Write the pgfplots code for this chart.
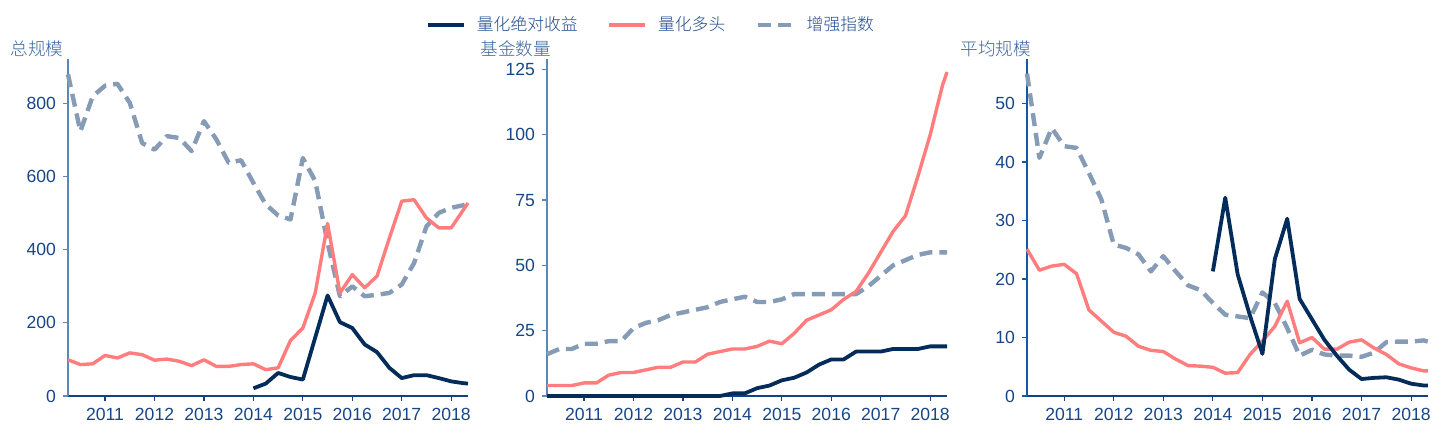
\documentclass[border=0pt]{standalone}
\usepackage{pgfplots}
\pgfplotsset{compat=1.18}
\usepackage{pgfplotstable}
\usepackage{fontspec}
\setmainfont{Liberation Sans}
\IfFontExistsTF{Noto Sans CJK SC Light}
  {\newfontfamily\cjk{Noto Sans CJK SC Light}}
  {\newfontfamily\cjk{Noto Sans CJK SC}}

\definecolor{navy}{RGB}{3,44,90}
\definecolor{salmon}{RGB}{255,125,125}
\definecolor{dashc}{RGB}{133,155,182}
\definecolor{ticktext}{RGB}{22,70,135}
\definecolor{titletext}{RGB}{55,100,155}
\definecolor{legtext}{RGB}{30,75,140}
\definecolor{yline}{RGB}{95,135,180}
\definecolor{yline3}{RGB}{25,85,165}
\definecolor{xline}{RGB}{20,65,130}

% x: quarter ends; tp/tn/td = total size, np/nn/nd = fund count, ap/an/ad = average size
% p = 量化多头, n = 量化绝对收益, d = 增强指数
\pgfplotstableread{
x       tp   tn   td   np  nn  nd  ap    an    ad
2010.25 99   nan  880  4   0   16  25.1  nan   55.1
2010.50 86   nan  724  4   0   18  21.5  nan   40.7
2010.75 88   nan  820  4   0   18  22.2  nan   45.8
2011.00 111  nan  849  5   0   20  22.5  nan   42.7
2011.25 104  nan  854  5   0   20  20.9  nan   42.4
2011.50 118  nan  802  8   0   21  14.7  nan   38.1
2011.75 113  nan  692  9   0   21  12.8  nan   33.6
2012.00 98   nan  674  9   0   26  10.9  nan   25.9
2012.25 101  nan  711  10  0   28  10.2  nan   25.3
2012.50 95   nan  706  11  0   29  8.5   nan   24.2
2012.75 83   nan  670  11  0   31  7.8   nan   21.3
2013.00 99   nan  752  13  0   32  7.6   nan   23.9
2013.25 81   nan  702  13  0   33  6.3   nan   21.3
2013.50 81   nan  638  16  0   34  5.2   nan   18.9
2013.75 86   nan  645  17  0   36  5.1   nan   18.1
2014.00 88   21   583  18  1   37  4.9   21.3  15.9
2014.25 72   34   524  18  1   38  3.9   33.9  13.9
2014.50 77   63   494  19  3   36  4.0   20.8  13.6
2014.75 152  52   483  21  4   36  7.1   13.7  13.3
2015.00 186  45   651  20  6   37  9.4   7.2   17.7
2015.25 282  160  588  24  7   39  11.9  23.4  15.9
2015.50 472  275  419  29  9   39  16.2  30.3  11.6
2015.75 282  202  273  31  12  39  9.1   16.6  6.9
2016.00 332  186  300  33  14  39  10.0  13.1  7.9
2016.25 296  141  273  37  14  39  8.0   9.6   7.1
2016.50 328  120  277  40  17  39  8.0   6.9   6.9
2016.75 432  77   282  47  17  42  9.2   4.5   6.9
2017.00 533  49   305  55  17  46  9.6   2.9   6.7
2017.25 537  57   364  63  18  50  8.2   3.1   7.4
2017.50 487  57   464  69  18  52  7.1   3.2   9.2
2017.75 460  49   501  84  18  54  5.5   2.8   9.3
2018.00 460  40   515  100 19  55  4.8   2.1   9.3
2018.25 510  35   522  119 19  55  4.3   1.8   9.5
2018.34 528  34   528  124 19  55  4.3   1.8   9.3
}\data

\pgfplotsset{
  panel/.style={
    scale only axis, width=200pt, height=168.5pt,
    xmin=2010.25, xmax=2018.34, ymin=0,
    axis x line*=bottom, axis y line*=left,
    x axis line style={-, draw=xline, line width=0.8pt},
    y axis line style={-, draw=yline, line width=0.8pt},
    tick align=outside, major tick length=2.5pt,
    xtick style={draw=xline, line width=0.6pt},
    ytick style={draw=yline, line width=0.6pt},
    xtick={2011,...,2018},
    xticklabels={2011,2012,2013,2014,2015,2016,2017,2018},
    ticklabel style={font=\fontsize{8.8}{10}\selectfont, text=ticktext},
    /pgf/number format/assume math mode=true,
    clip=false,
  },
  sn/.style={navy, line width=1.9pt, line join=round},
  sp/.style={salmon, line width=1.7pt, line join=round},
  sd/.style={dashc, line width=2.2pt, dash pattern=on 6.5pt off 3.5pt, line join=round},
}

\begin{document}
\begin{tikzpicture}
\useasboundingbox (0,0) rectangle (718.5pt,214.5pt);

\begin{axis}[panel, at={(34pt,16.5pt)}, anchor=south west,
  ymax=922, ytick={0,200,...,800},
  legend columns=3,
  legend style={at={(1.46,1.101)}, anchor=center, draw=none, fill=none,
    font=\cjk\fontsize{8.4}{10}\selectfont, text=legtext,
    /tikz/every odd column/.append style={column sep=3.5pt},
    /tikz/every even column/.append style={column sep=13pt}},
  legend image code/.code={\draw[#1] (0pt,0pt) -- (18pt,0pt);},
]
\addplot[sd, forget plot] table[x=x, y=td] {\data};
\addplot[sp, forget plot] table[x=x, y=tp] {\data};
\addplot[sn, forget plot] table[x=x, y=tn] {\data};
\addlegendimage{sn}
\addlegendentry{量化绝对收益}
\addlegendimage{sp}
\addlegendentry{量化多头}
\addlegendimage{sd}
\addlegendentry{增强指数}
\end{axis}

\begin{axis}[panel, at={(273.5pt,16.5pt)}, anchor=south west,
  ymax=129, ytick={0,25,...,125}]
\addplot[sd] table[x=x, y=nd] {\data};
\addplot[sp] table[x=x, y=np] {\data};
\addplot[sn] table[x=x, y=nn] {\data};
\end{axis}

\begin{axis}[panel, at={(513.5pt,16.5pt)}, anchor=south west,
  width=200.5pt, ymax=57.6, ytick={0,10,...,50},
  y axis line style={-, draw=yline3, line width=0.8pt},
  ytick style={draw=yline3, line width=0.6pt}]
\addplot[sd] table[x=x, y=ad] {\data};
\addplot[sp] table[x=x, y=ap] {\data};
\addplot[sn] table[x=x, y=an] {\data};
\end{axis}

\begin{scope}[every node/.style={anchor=west, inner sep=0pt, text=titletext,
    font=\cjk\fontsize{8.8}{10}\selectfont}]
\node at (5pt,190pt) {总规模};
\node at (240pt,190pt) {基金数量};
\node at (480pt,190pt) {平均规模};
\end{scope}
\end{tikzpicture}
\end{document}
